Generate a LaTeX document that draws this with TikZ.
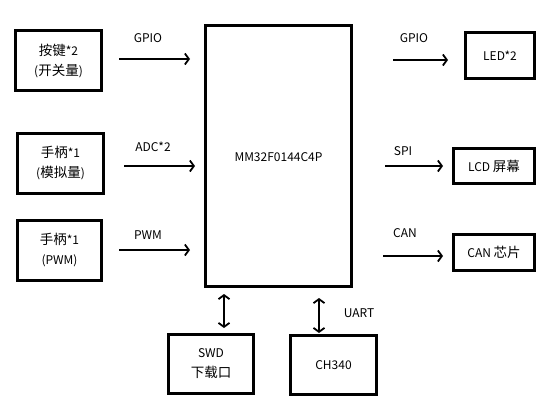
\documentclass[tikz,border=0pt]{standalone}
\usepackage{fontspec}
\setmainfont{Noto Sans CJK SC}
\usetikzlibrary{arrows.meta}
\newcommand{\cjtxt}[1]{{\fontsize{13.5}{20}\selectfont #1}}
\begin{document}
\begin{tikzpicture}[x=1pt,y=-1pt,
  blk/.style={draw,line width=3pt,fill=white,font=\fontsize{12}{20}\selectfont,align=center,inner sep=0pt},
  lbl/.style={font=\fontsize{12}{20}\selectfont,align=center,inner sep=0pt},
  conn/.style={line width=1.8pt,-{Straight Barb[length=4pt,width=11pt]}},
  bconn/.style={line width=1.8pt,{Straight Barb[length=4pt,width=11pt]}-{Straight Barb[length=4pt,width=11pt]}}]
\useasboundingbox (0,0) rectangle (555,407);
\fill[white] (0,0) rectangle (555,407);
% boxes
\node[blk,minimum width=86pt,minimum height=60pt] (k1) at (58.5,60.5) {\cjtxt{按键}*2\\(\cjtxt{开关量})};
\node[blk,minimum width=86pt,minimum height=60pt] (k2) at (60.5,163.5) {\cjtxt{手柄}*1\\(\cjtxt{模拟量})};
\node[blk,minimum width=84pt,minimum height=60pt] (k3) at (59.5,250.5) {\cjtxt{手柄}*1\\(PWM)};
\node[blk,minimum width=146pt,minimum height=261pt] (mcu) at (278.5,156) {};
\node[lbl] (mcul) at (278.5,157) {MM32F0144C4P};
\node[blk,minimum width=69pt,minimum height=46pt] (led) at (500,55.5) {LED*2};
\node[blk,minimum width=81pt,minimum height=35pt] (lcd) at (494,166) {LCD \cjtxt{屏幕}};
\node[blk,minimum width=81pt,minimum height=36pt] (can) at (494,252.5) {CAN \cjtxt{芯片}};
\node[blk,minimum width=85pt,minimum height=59pt] (swd) at (211,364) {SWD\\\cjtxt{下载口}};
\node[blk,minimum width=86pt,minimum height=59pt] (ch) at (333.5,365) {CH340};
% arrow end coordinates
\coordinate (a1s) at (119,59); \coordinate (a1e) at (190,59);
\coordinate (a2s) at (124,166); \coordinate (a2e) at (195,166);
\coordinate (a3s) at (119,250); \coordinate (a3e) at (190,250);
\coordinate (b1s) at (393,60); \coordinate (b1e) at (448,60);
\coordinate (b2s) at (385,166); \coordinate (b2e) at (443,166);
\coordinate (b3s) at (383,256); \coordinate (b3e) at (443,256);
\coordinate (c1s) at (224,294); \coordinate (c1e) at (224,328);
\coordinate (c2s) at (319,298); \coordinate (c2e) at (319,333);
\draw[conn] (a1s) -- (a1e);
\draw[conn] (a2s) -- (a2e);
\draw[conn] (a3s) -- (a3e);
\draw[conn] (b1s) -- (b1e);
\draw[conn] (b2s) -- (b2e);
\draw[conn] (b3s) -- (b3e);
\draw[bconn] (c1s) -- (c1e);
\draw[bconn] (c2s) -- (c2e);
% labels
\node[lbl] (l1) at (148,38) {GPIO};
\node[lbl] (l2) at (153,147) {ADC*2};
\node[lbl] (l3) at (148,235) {PWM};
\node[lbl] (l4) at (414,38) {GPIO};
\node[lbl] (l5) at (403,151) {SPI};
\node[lbl] (l6) at (405,233) {CAN};
\node[lbl] (l7) at (359,313) {UART};
\end{tikzpicture}
\end{document}
